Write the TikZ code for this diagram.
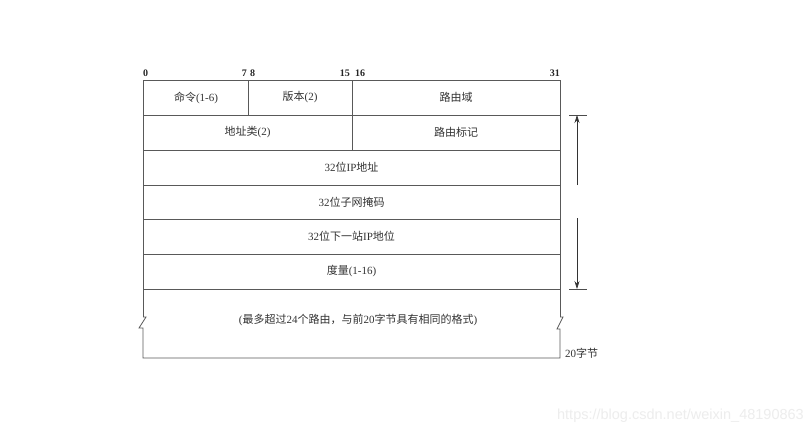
\documentclass[tikz,border=0pt]{standalone}
\usepackage{fontspec}
\setmainfont{Liberation Serif}
\newfontfamily\cjk{Noto Sans CJK SC}
\newfontfamily\wmfont{Liberation Sans}
\usetikzlibrary{arrows.meta}
\newcommand{\zh}[1]{{\cjk #1}}
\tikzset{
  frame/.style={draw=black!65, line width=0.8pt},
  field/.style={font=\fontsize{11}{13}\selectfont, text=black!80, inner sep=0pt},
  bitlbl/.style={font=\fontsize{10}{12}\selectfont\bfseries, text=black!85, inner sep=0pt},
  dim/.style={draw=black!80, line width=0.6pt, -{Stealth[length=8pt,width=5pt]}},
  tick/.style={draw=black!70, line width=0.6pt}
}
\begin{document}
\begin{tikzpicture}[x=1pt,y=-1pt]
\useasboundingbox[fill=white] (0,0) rectangle (812,437);
% outer frame and rows
\draw[frame] (143,317) -- (143,80) -- (560,80) -- (560,317);
\draw[frame] (143,317) -- (146,317) -- (139,328) -- (143,328) -- (143,358) -- (560,358) -- (560,329) -- (557,329) -- (563,317) -- (560,317);
\foreach \y in {115,150,185,219,254,289} \draw[frame] (143,\y) -- (560,\y);
\draw[frame] (248,80) -- (248,115);
\draw[frame] (352,80) -- (352,150);
% bit labels
\node[bitlbl, anchor=south west] (b0) at (143,77) {0};
\node[bitlbl, anchor=south east] (b7) at (247,77) {7};
\node[bitlbl, anchor=south west] (b8) at (250,77) {8};
\node[bitlbl, anchor=south east] (b15) at (350,77) {15};
\node[bitlbl, anchor=south west] (b16) at (355,77) {16};
\node[bitlbl, anchor=south east] (b31) at (560,77) {31};
% fields
\node[field] (cmd) at (196,97.5) {\zh{命令}(1-6)};
\node[field] (ver) at (300,97.5) {\zh{版本}(2)};
\node[field] (dom) at (456,97.5) {\zh{路由域}};
\node[field] (afi) at (247.5,132.5) {\zh{地址类}(2)};
\node[field] (tag) at (456,132.5) {\zh{路由标记}};
\node[field] (ip) at (351.5,167.5) {32\zh{位}IP\zh{地址}};
\node[field] (mask) at (351.5,202) {32\zh{位子网掩码}};
\node[field] (nh) at (351.5,236.5) {32\zh{位下一站}IP\zh{地位}};
\node[field] (met) at (351.5,271.5) {\zh{度量}(1-16)};
\node[field] (more) at (358,320) {(\zh{最多超过}24\zh{个路由，与前}20\zh{字节具有相同的格式})};
% dimension arrow
\coordinate (t1) at (577,115);
\coordinate (t2) at (577,289);
\coordinate (m1) at (577,185);
\coordinate (m2) at (577,218);
\draw[tick] (569,115) -- (587,115);
\draw[tick] (569,289) -- (587,289);
\draw[dim] (m1) -- (t1);
\draw[dim] (m2) -- (t2);
\node[field, anchor=west] (len) at (565,353) {20\zh{字节}};
% watermark
\node[font=\wmfont\fontsize{14.5}{16}\selectfont, text=black!7, anchor=east, inner sep=0pt] (wm) at (804,416) {https://blog.csdn.net/weixin\_48190863};
\end{tikzpicture}
\end{document}
